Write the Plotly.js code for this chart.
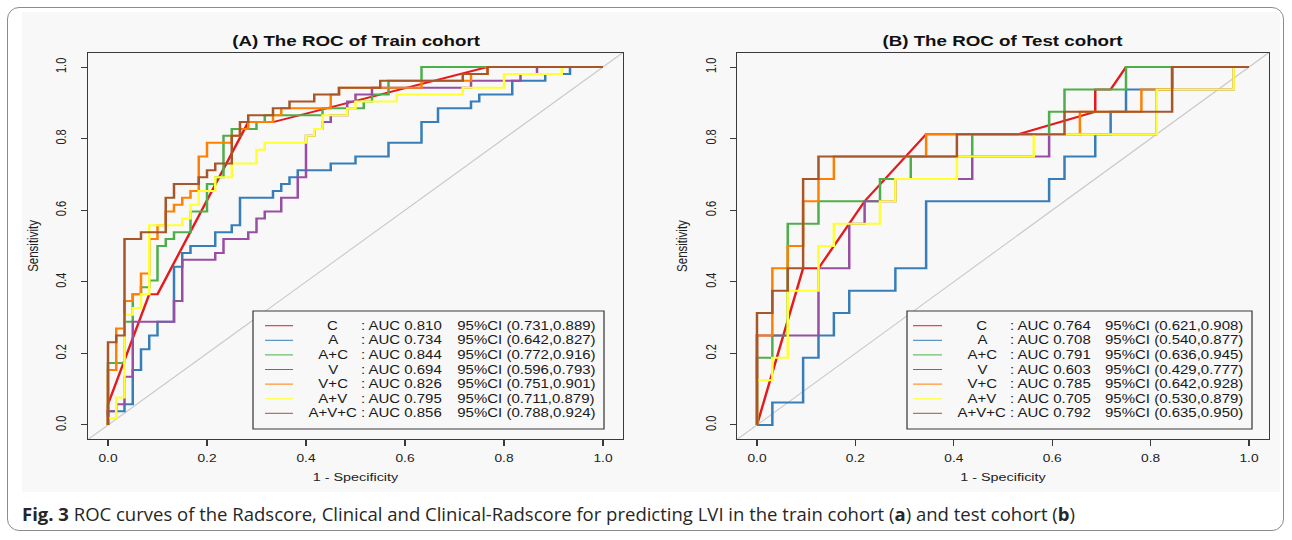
<!DOCTYPE html>
<html>
<head>
<meta charset="utf-8">
<script src="https://cdn.plot.ly/plotly-3.0.1.min.js"></script>
<style>
  html, body { margin: 0; padding: 0; background: #ffffff; width: 1292px; height: 540px; overflow: hidden; }
  #frame { position: absolute; left: 7px; top: 7px; width: 1277px; height: 524px; border: 1px solid #8c8c8c; border-radius: 12px; box-sizing: border-box; }
  #wrap { position: absolute; left: 22px; top: 12px; width: 1258px; height: 480px; overflow: hidden; background: #f8f8f8; }
  #chart { position: absolute; left: 0; top: 0; width: 1006px; height: 480px; transform: scaleX(1.2505); transform-origin: 0 0; }
  #caption { position: absolute; left: 22px; top: 502px; font-family: 'Open Sans', 'Noto Sans', sans-serif; font-size: 18.5px; line-height: 24px; color: #262626; white-space: nowrap; }
</style>
</head>
<body>
<div id="frame"></div>
<div id="wrap"><div id="chart"></div></div>
<div id="caption"><b>Fig. 3</b> ROC curves of the Radscore, Clinical and Clinical-Radscore for predicting LVI in the train cohort (<b>a</b>) and test cohort (<b>b</b>)</div>
<script>
// ---------------- data ----------------
const seriesNames = ['C', 'A', 'A+C', 'V', 'V+C', 'A+V', 'A+V+C'];

const trainAUC = ['0.810', '0.734', '0.844', '0.694', '0.826', '0.795', '0.856'];
const trainCI  = ['(0.731,0.889)', '(0.642,0.827)', '(0.772,0.916)', '(0.596,0.793)', '(0.751,0.901)', '(0.711,0.879)', '(0.788,0.924)'];
const testAUC  = ['0.764', '0.708', '0.791', '0.603', '0.785', '0.705', '0.792'];
const testCI   = ['(0.621,0.908)', '(0.540,0.877)', '(0.636,0.945)', '(0.429,0.777)', '(0.642,0.928)', '(0.530,0.879)', '(0.635,0.950)'];

// cohort sizes (negatives / positives), so the curve steps are counts
const trainNeg = 60, trainPos = 52;
const testNeg = 32, testPos = 16;

// Train cohort: false-positive counts and true-positive counts at ROC vertices
const trainFP_C   = [0, 0, 5, 6, 17, 20, 46, 60];
const trainTP_C   = [0, 3, 19, 19, 44, 44, 52, 52];
const trainFP_A   = [0, 0, 2, 3, 4, 5, 6, 8, 9, 10, 13, 15, 16, 20, 21, 22, 23, 27, 30, 34, 38, 40, 44, 45, 49, 53, 56, 60];
const trainTP_A   = [0, 2, 3, 8, 11, 13, 15, 23, 25, 26, 28, 29, 33, 34, 35, 36, 37, 38, 39, 41, 44, 46, 47, 48, 50, 51, 52, 52];
const trainFP_AC  = [0, 0, 2, 3, 4, 5, 6, 7, 8, 10, 12, 13, 14, 15, 18, 19, 26, 31, 32, 34, 38, 60];
const trainTP_AC  = [0, 9, 15, 19, 20, 21, 26, 27, 28, 31, 35, 36, 42, 43, 44, 45, 46, 47, 48, 50, 52, 52];
const trainFP_V   = [0, 0, 1, 2, 3, 8, 9, 13, 14, 17, 18, 19, 21, 23, 24, 25, 26, 27, 29, 30, 32, 44, 50, 52, 60];
const trainTP_V   = [0, 2, 3, 7, 15, 18, 24, 25, 27, 28, 30, 31, 33, 36, 42, 43, 44, 45, 47, 48, 49, 50, 51, 52, 52];
const trainFP_VC  = [0, 0, 1, 2, 3, 4, 5, 6, 7, 8, 9, 10, 11, 12, 15, 16, 17, 20, 21, 27, 28, 38, 44, 46, 60];
const trainTP_VC  = [0, 8, 14, 18, 19, 22, 27, 29, 31, 32, 33, 34, 39, 41, 42, 43, 44, 45, 46, 48, 49, 50, 51, 52, 52];
const trainFP_AV  = [0, 0, 1, 2, 3, 4, 5, 9, 10, 11, 13, 15, 18, 19, 24, 25, 26, 29, 30, 35, 43, 48, 55, 60];
const trainTP_AV  = [0, 1, 4, 16, 17, 19, 29, 30, 32, 34, 36, 38, 40, 41, 42, 43, 45, 46, 47, 48, 49, 51, 52, 52];
const trainFP_AVC = [0, 0, 1, 2, 4, 7, 8, 11, 12, 13, 15, 16, 17, 20, 22, 25, 28, 33, 43, 46, 60];
const trainTP_AVC = [0, 12, 13, 27, 28, 33, 35, 36, 37, 38, 42, 44, 45, 46, 47, 48, 49, 50, 51, 52, 52];

// Test cohort
const testFP_C   = [0, 3, 4, 7, 11, 17, 22, 22, 23, 24, 32];
const testTP_C   = [0, 7, 7, 10, 13, 13, 14, 15, 15, 16, 16];
const testFP_A   = [0, 1, 3, 4, 5, 6, 9, 11, 19, 20, 22, 23, 24, 27, 32];
const testTP_A   = [0, 1, 3, 4, 5, 6, 7, 10, 11, 12, 13, 14, 15, 16, 16];
const testFP_AC  = [0, 0, 1, 2, 4, 8, 10, 14, 19, 20, 24, 32];
const testTP_AC  = [0, 3, 4, 9, 10, 11, 12, 13, 14, 15, 16, 16];
const testFP_V   = [0, 0, 4, 6, 7, 9, 14, 19, 26, 31, 32];
const testTP_V   = [0, 4, 7, 9, 10, 11, 12, 13, 15, 16, 16];
const testFP_VC  = [0, 0, 1, 2, 3, 4, 5, 11, 21, 25, 27, 32];
const testTP_VC  = [0, 4, 7, 8, 10, 11, 12, 13, 14, 15, 16, 16];
const testFP_AV  = [0, 0, 1, 2, 4, 5, 8, 9, 13, 18, 26, 31, 32];
const testTP_AV  = [0, 2, 3, 6, 8, 9, 10, 11, 12, 13, 15, 16, 16];
const testFP_AVC = [0, 0, 1, 2, 3, 4, 13, 20, 27, 32];
const testTP_AVC = [0, 5, 6, 7, 11, 12, 13, 14, 16, 16];

const tickValues = [0, 0.2, 0.4, 0.6, 0.8, 1.0];
const tickLabels = ['0.0', '0.2', '0.4', '0.6', '0.8', '1.0'];

// ---------------- styling ----------------
const seriesColors = ['#E41A1C', '#377EB8', '#4DAF4A', '#984EA3', '#FF7F00', '#FFFF33', '#A65628'];
const FONT = "'Liberation Sans', Arial, Helvetica, sans-serif";

const W = 1006, H = 480, S = 1258 / 1006, L0 = 22, T0 = 12;
const px2x = p => (p - L0) / S / W;
const py2y = p => 1 - (p - T0) / H;

const trainCurves = [
  [trainFP_C, trainTP_C, 'linear'], [trainFP_A, trainTP_A, 'hv'], [trainFP_AC, trainTP_AC, 'hv'],
  [trainFP_V, trainTP_V, 'hv'], [trainFP_VC, trainTP_VC, 'hv'], [trainFP_AV, trainTP_AV, 'hv'],
  [trainFP_AVC, trainTP_AVC, 'hv']
];
const testCurves = [
  [testFP_C, testTP_C, 'linear'], [testFP_A, testTP_A, 'hv'], [testFP_AC, testTP_AC, 'hv'],
  [testFP_V, testTP_V, 'hv'], [testFP_VC, testTP_VC, 'hv'], [testFP_AV, testTP_AV, 'hv'],
  [testFP_AVC, testTP_AVC, 'hv']
];

const traces = [];
function addCohort(curves, nNeg, nPos, xa, ya) {
  curves.forEach((c, i) => {
    traces.push({
      type: 'scatter', mode: 'lines', xaxis: xa, yaxis: ya,
      x: c[0].map(v => v / nNeg), y: c[1].map(v => v / nPos),
      line: { color: seriesColors[i], width: 2, shape: c[2] },
      name: seriesNames[i], showlegend: false, hoverinfo: 'skip'
    });
  });
}
addCohort(trainCurves, trainNeg, trainPos, 'x', 'y');
addCohort(testCurves, testNeg, testPos, 'x2', 'y2');

// panel geometry in screen pixels
const panels = [
  { x0: 88.2, x1: 622.8, title: '(A) The ROC of Train cohort', auc: trainAUC, ci: trainCI,
    leg: { bx0: 253, bx1: 604, ln0: 265, ln1: 293, name: 333, auc: 358, ci: 455 } },
  { x0: 737.3, x1: 1268.7, title: '(B) The ROC of Test cohort', auc: testAUC, ci: testCI,
    leg: { bx0: 907, bx1: 1252, ln0: 913, ln1: 942, name: 982, auc: 1007, ci: 1102 } }
];
const PY0 = 52.7, PY1 = 439.3;
const LEG_TOP = 311, LEG_BOT = 429, ROW0 = 325.7, ROWD = 14.6;

function axisX(dom, anchor) {
  return {
    domain: dom, anchor: anchor, range: [-0.04, 1.04], autorange: false,
    tickvals: tickValues, ticktext: tickLabels, ticks: 'outside', ticklen: 6, tickwidth: 1,
    tickcolor: '#3a3a3a', showline: true, mirror: true, linecolor: '#3a3a3a', linewidth: 1,
    showgrid: false, zeroline: false, ticklabelstandoff: 3,
    tickfont: { family: FONT, size: 11, color: '#222' },
    title: { text: '1 - Specificity', font: { family: FONT, size: 11.5, color: '#222' }, standoff: 9 }
  };
}
function axisY(dom, anchor) {
  return {
    domain: dom, anchor: anchor, range: [-0.04, 1.04], autorange: false,
    tickvals: tickValues, ticktext: tickLabels, ticks: 'outside', ticklen: 5, tickwidth: 1,
    tickcolor: '#3a3a3a', showline: true, mirror: true, linecolor: '#3a3a3a', linewidth: 1,
    showgrid: false, zeroline: false, tickangle: -90, ticklabelstandoff: 7,
    tickfont: { family: FONT, size: 11, color: '#222' },
    title: { text: 'Sensitivity', font: { family: FONT, size: 11.5, color: '#222' }, standoff: 9 }
  };
}

const shapes = [];
const annotations = [];
panels.forEach((p, pi) => {
  const xr = pi === 0 ? 'x' : 'x2', yr = pi === 0 ? 'y' : 'y2';
  // reference diagonal
  shapes.push({ type: 'line', xref: xr, yref: yr, x0: -0.04, y0: -0.04, x1: 1.04, y1: 1.04,
    line: { color: '#c9c9c9', width: 1 }, layer: 'below' });
  // panel title
  annotations.push({ xref: 'paper', yref: 'paper', x: px2x((p.x0 + p.x1) / 2), y: py2y(40),
    xanchor: 'center', yanchor: 'middle', showarrow: false, text: '<b>' + p.title + '</b>',
    font: { family: FONT, size: 15, color: '#111' } });
  // legend box
  const g = p.leg;
  shapes.push({ type: 'rect', xref: 'paper', yref: 'paper', x0: px2x(g.bx0), x1: px2x(g.bx1),
    y0: py2y(LEG_BOT), y1: py2y(LEG_TOP), fillcolor: '#f8f8f8', line: { color: '#3a3a3a', width: 1 }, layer: 'above' });
  seriesNames.forEach((nm, i) => {
    const ry = ROW0 + ROWD * i;
    shapes.push({ type: 'line', xref: 'paper', yref: 'paper', x0: px2x(g.ln0), x1: px2x(g.ln1),
      y0: py2y(ry), y1: py2y(ry), line: { color: seriesColors[i], width: 1 }, layer: 'above' });
    annotations.push({ xref: 'paper', yref: 'paper', x: px2x(g.name), y: py2y(ry), xanchor: 'center', yanchor: 'middle',
      showarrow: false, text: nm, font: { family: FONT, size: 12, color: '#1a1a1a' } });
    annotations.push({ xref: 'paper', yref: 'paper', x: px2x(g.auc), y: py2y(ry), xanchor: 'left', yanchor: 'middle',
      showarrow: false, text: ': AUC ' + p.auc[i], font: { family: FONT, size: 12, color: '#1a1a1a' } });
    annotations.push({ xref: 'paper', yref: 'paper', x: px2x(g.ci), y: py2y(ry), xanchor: 'left', yanchor: 'middle',
      showarrow: false, text: '95%CI ' + p.ci[i], font: { family: FONT, size: 12, color: '#1a1a1a' } });
  });
});

const layout = {
  width: W, height: H,
  margin: { l: 0, r: 0, t: 0, b: 0, pad: 0 },
  paper_bgcolor: '#f8f8f8', plot_bgcolor: '#f8f8f8',
  showlegend: false,
  xaxis: axisX([px2x(panels[0].x0), px2x(panels[0].x1)], 'y'),
  yaxis: axisY([py2y(PY1), py2y(PY0)], 'x'),
  xaxis2: axisX([px2x(panels[1].x0), px2x(panels[1].x1)], 'y2'),
  yaxis2: axisY([py2y(PY1), py2y(PY0)], 'x2'),
  shapes: shapes,
  annotations: annotations
};

Plotly.newPlot('chart', traces, layout, { displayModeBar: false, staticPlot: true });
</script>
</body>
</html>
